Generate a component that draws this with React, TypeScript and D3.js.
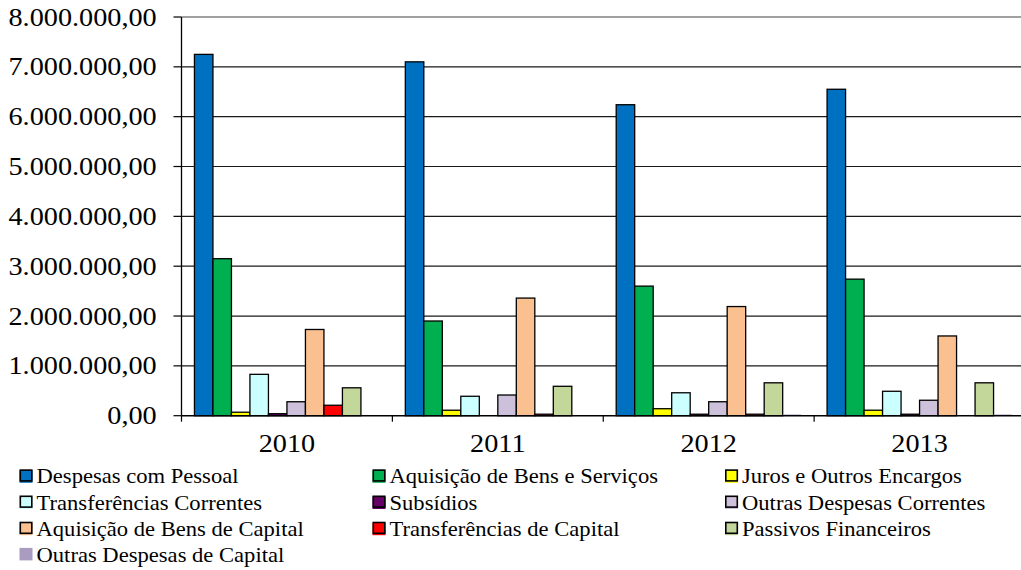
import React from "react";
import * as d3 from "d3";

const years = ["2010", "2011", "2012", "2013"];

const seriesNames = [
  "Despesas com Pessoal",
  "Aquisição de Bens e Serviços",
  "Juros e Outros Encargos",
  "Transferências Correntes",
  "Subsídios",
  "Outras Despesas Correntes",
  "Aquisição de Bens de Capital",
  "Transferências de Capital",
  "Passivos Financeiros",
  "Outras Despesas de Capital",
];

const seriesColors = [
  "#0070C0",
  "#00B050",
  "#FFFF00",
  "#CCFFFF",
  "#660066",
  "#CCC0DA",
  "#FAC090",
  "#FF0000",
  "#C4D79B",
  "#A99CC0",
];

const despesasPessoal = [7250000, 7100000, 6240000, 6550000];
const aquisicaoBensServicos = [3150000, 1900000, 2600000, 2740000];
const jurosEncargos = [70000, 110000, 140000, 110000];
const transferenciasCorrentes = [830000, 390000, 460000, 490000];
const subsidios = [40000, 0, 30000, 30000];
const outrasDespesasCorrentes = [280000, 415000, 280000, 310000];
const aquisicaoBensCapital = [1730000, 2360000, 2190000, 1600000];
const transferenciasCapital = [210000, 30000, 30000, 0];
const passivosFinanceiros = [560000, 590000, 660000, 660000];
const outrasDespesasCapital = [0, 0, 25000, 25000];

const seriesValues = [
  despesasPessoal,
  aquisicaoBensServicos,
  jurosEncargos,
  transferenciasCorrentes,
  subsidios,
  outrasDespesasCorrentes,
  aquisicaoBensCapital,
  transferenciasCapital,
  passivosFinanceiros,
  outrasDespesasCapital,
];

const yTicks = [0, 1000000, 2000000, 3000000, 4000000, 5000000, 6000000, 7000000, 8000000];

const FONT = "'Liberation Serif', 'Times New Roman', Times, serif";
const SX = 1.13;
const textStyle = { fontFamily: FONT };

function fmt(v: number): string {
  const intPart = Math.round(v).toString().replace(/\B(?=(\d{3})+(?!\d))/g, ".");
  return intPart + ",00";
}

export default function App() {
  const W = 1021;
  const H = 570;
  const left = 181.5;
  const right = 1025;
  const top = 17;
  const bottom = 415.7;

  const x0 = d3.scaleBand<string>().domain(years).range([left, right]).paddingInner(0).paddingOuter(0);
  const x1 = d3
    .scaleBand<number>()
    .domain(d3.range(seriesNames.length))
    .range([0, x0.bandwidth()])
    .paddingInner(0)
    .paddingOuter(0.7);
  const y = d3.scaleLinear().domain([0, 8000000]).range([bottom, top]);

  const legendCols = [19.5, 372.5, 725];
  const legendTextOffset = 17;
  const legendBase = 483.3;
  const legendStep = 26.2;

  return (
    <svg
      width={W}
      height={H}
      style={{ position: "absolute", left: 0, top: 0, background: "#fff", fontFamily: FONT }}
    >
      <rect x={0} y={0} width={W} height={H} fill="#fff" />
      {/* gridlines */}
      {yTicks.map((t) =>
        t === 0 ? null : (
          <line
            key={"g" + t}
            x1={left}
            x2={W}
            y1={y(t)}
            y2={y(t)}
            stroke={t === 8000000 ? "#808080" : "#1a1a1a"}
            strokeWidth={t === 8000000 ? 1.3 : 1.2}
          />
        )
      )}
      {/* bars */}
      {years.map((yr, yi) => (
        <g key={yr} transform={`translate(${x0(yr)},0)`}>
          {seriesValues.map((vals, si) => {
            const v = vals[yi];
            if (!v) return null;
            const noStroke = si === 9;
            return (
              <rect
                key={si}
                x={x1(si)}
                y={y(v)}
                width={x1.bandwidth()}
                height={bottom - y(v)}
                fill={seriesColors[si]}
                stroke={noStroke ? "none" : "#000"}
                strokeWidth={1.3}
              />
            );
          })}
        </g>
      ))}
      {/* y axis */}
      <line x1={left} x2={left} y1={top} y2={bottom} stroke="#000" strokeWidth={1.3} />
      {yTicks.map((t) => (
        <g key={"t" + t}>
          <line x1={left - 8} x2={left} y1={y(t)} y2={y(t)} stroke="#000" strokeWidth={1.2} />
          <text
            transform={`translate(156.7,${y(t) + 8.5}) scale(${SX},1)`}
            textAnchor="end"
            fontSize={25}
            fill="#000"
            style={textStyle}
          >
            {fmt(t)}
          </text>
        </g>
      ))}
      {/* x axis */}
      <line x1={left} x2={W} y1={bottom} y2={bottom} stroke="#000" strokeWidth={1.5} />
      {years.map((yr) => (
        <line
          key={"xt" + yr}
          x1={x0(yr)}
          x2={x0(yr)}
          y1={bottom}
          y2={bottom + 6}
          stroke="#000"
          strokeWidth={1.2}
        />
      ))}
      {years.map((yr) => (
        <text
          key={"xl" + yr}
          transform={`translate(${(x0(yr) as number) + x0.bandwidth() / 2},452.3) scale(${SX},1)`}
          textAnchor="middle"
          fontSize={25}
          fill="#000"
          style={textStyle}
        >
          {yr}
        </text>
      ))}
      {/* legend */}
      {seriesNames.map((name, i) => {
        const col = i % 3;
        const row = Math.floor(i / 3);
        const bx = legendCols[col];
        const base = legendBase + row * legendStep;
        const sy = base - 14;
        const plain = i === 9;
        return (
          <g key={"lg" + i}>
            {plain ? (
              <rect x={bx} y={sy} width={13} height={12.5} fill={seriesColors[i]} />
            ) : (
              <>
                <rect x={bx} y={sy + 1} width={13} height={12.5} fill={seriesColors[i]} />
                <rect
                  x={bx + 0.8}
                  y={sy + 0.8}
                  width={11.5}
                  height={10.8}
                  fill={seriesColors[i]}
                  stroke="#000"
                  strokeWidth={1.6}
                />
              </>
            )}
            <text
              transform={`translate(${bx + legendTextOffset},${base}) scale(${SX},1)`}
              fontSize={20}
              fill="#000"
              style={textStyle}
            >
              {name}
            </text>
          </g>
        );
      })}
    </svg>
  );
}
